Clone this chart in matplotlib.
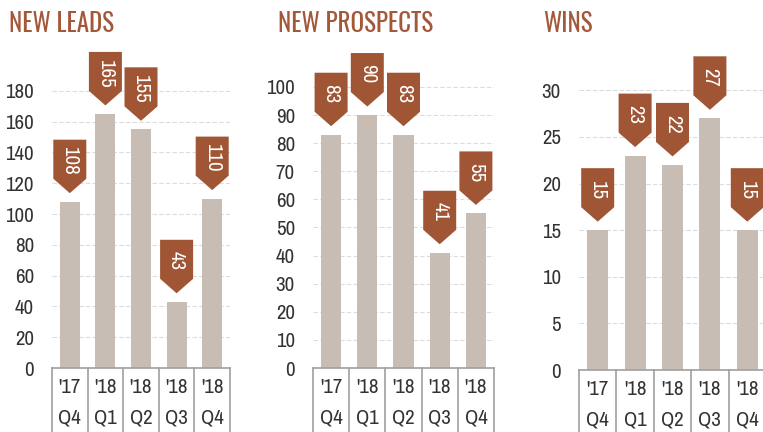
import matplotlib
matplotlib.use("Agg")
import matplotlib.pyplot as plt
import matplotlib.patches as patches
import matplotlib.transforms as mtransforms
from matplotlib import font_manager

years = ["'17", "'18", "'18", "'18", "'18"]
quarters = ["Q4", "Q1", "Q2", "Q3", "Q4"]
titles = ["NEW LEADS", "NEW PROSPECTS", "WINS"]
leads = [108, 165, 155, 43, 110]
prospects = [83, 90, 83, 41, 55]
wins = [15, 23, 22, 27, 15]
yticks = [list(range(0, 181, 20)), list(range(0, 101, 10)), list(range(0, 31, 5))]

installed = {f.name for f in font_manager.fontManager.ttflist}


def pick(*fams):
    for f in fams:
        if f in installed:
            return f
    return "DejaVu Sans"


NARROW = pick("Arial Narrow", "Liberation Sans Narrow", "Archivo Narrow", "Roboto Condensed")
HEAD = pick("Oswald", "Antonio", "Archivo Narrow")

BAR = "#c8bdb4"
MARK = "#a05634"
TITLE = "#a3583a"
TXT = "#333333"
LINE = "#a0a0a0"

W, H = 763, 432
fig = plt.figure(figsize=(W / 100, H / 100), dpi=100)

# pixel boxes: left, right, y of zero, top
boxes = [(52, 230, 368, 40), (313, 494, 368, 40), (579, 766, 370, 40)]
ymax = [213, 116.7, 35.4]
title_x = [9, 278, 543]

for k, vals in enumerate([leads, prospects, wins]):
    l, r, b, t = boxes[k]
    ax = fig.add_axes([l / W, (H - b) / H, (r - l) / W, (b - t) / H])
    x = list(range(len(vals)))
    ax.bar(x, vals, width=0.56, color=BAR, zorder=2)
    ax.set_xlim(-0.5, len(vals) - 0.5)
    ax.set_ylim(0, ymax[k])
    ax.set_yticks(yticks[k])
    ax.set_xticks([])
    ax.tick_params(axis="y", length=0, pad=13, labelsize=15, labelcolor=TXT)
    for lab in ax.get_yticklabels():
        lab.set_family(NARROW)
    for s in ["top", "right", "left"]:
        ax.spines[s].set_visible(False)
    ax.spines["bottom"].set_color(LINE)
    ax.spines["bottom"].set_linewidth(1.2)
    ax.yaxis.grid(True, color="#dcdcdc", linestyle=(0, (4, 2)), linewidth=0.8, zorder=0)
    ax.set_axisbelow(True)

    # category box below the axis
    bt = mtransforms.blended_transform_factory(ax.transData, ax.transAxes)
    for bnd in range(len(vals) + 1):
        ax.plot([bnd - 0.5, bnd - 0.5], [0, -0.4], transform=bt, color=LINE,
                lw=1.2, clip_on=False)
    for i in x:
        ax.annotate(years[i], (i, 0), xycoords=bt, xytext=(0, -14),
                    textcoords="offset points", ha="center", va="center",
                    fontsize=15, family=NARROW, color=TXT)
        ax.annotate(quarters[i], (i, 0), xycoords=bt, xytext=(0, -36),
                    textcoords="offset points", ha="center", va="center",
                    fontsize=15, family=NARROW, color=TXT)

    # flag markers above the bars
    g, tip, rh, hw = 0.085, 0.145, 0.39, 0.165
    for i, v in zip(x, vals):
        tr = fig.dpi_scale_trans + mtransforms.ScaledTranslation(i, v, ax.transData)
        verts = [(0, g), (-hw, g + tip), (-hw, g + tip + rh),
                 (hw, g + tip + rh), (hw, g + tip)]
        ax.add_patch(patches.Polygon(verts, closed=True, transform=tr,
                                     facecolor=MARK, edgecolor="none",
                                     clip_on=False, zorder=3))
        ax.text(0, g + tip + rh / 2 - 0.015, str(v), transform=tr, rotation=270,
                ha="center", va="center", color="white", fontsize=15,
                family=NARROW, zorder=4)

    fig.text(title_x[k] / W, 1 - 32 / H, titles[k], ha="left", va="baseline",
             fontsize=18, family=HEAD, fontweight=300, color=TITLE)

fig.savefig("out.png", dpi=100)
